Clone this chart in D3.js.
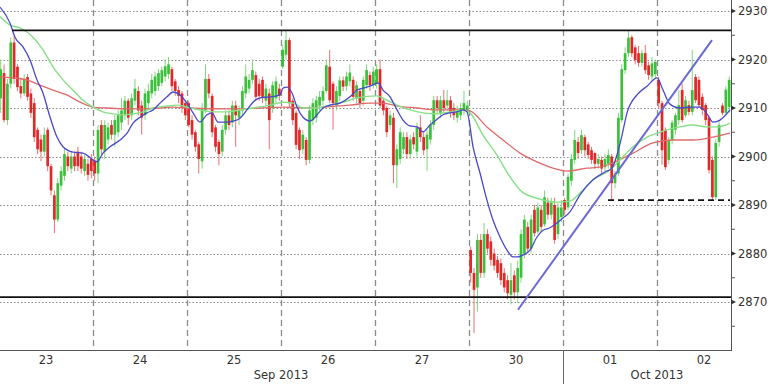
<!DOCTYPE html>
<html><head><meta charset="utf-8">
<script src="https://cdn.jsdelivr.net/npm/d3@7"></script>
<style>html,body{margin:0;padding:0;background:#fff;}svg{display:block;}</style>
</head><body><svg id="c" width="768" height="384"></svg>
<script>
// ---------- data ----------
const dayLabels = ["23","24","25","26","27","30","01","02"];
const monthLabels = ["Sep 2013","Oct 2013"];
const monthSpans = [[0,6],[6,8]];
const yTicks = [2870,2880,2890,2900,2910,2920,2930];
const yMinorTicks = [2865,2875,2885,2895,2905,2915,2925];
const barsPerDay = 28;

// candles per day: [open, high, low, close]
const day23 = [[2912,2920,2909,2918],[2917.2,2919,2907,2907.5],[2907.5,2916,2906.5,2915],[2915,2924.5,2914,2923.5],[2923.5,2924.8,2915,2916],[2918.5,2919,2913.5,2914.3],[2914.5,2916,2912,2913],[2913,2917,2912.5,2916],[2916.4,2917,2911.5,2912.3],[2913,2914,2908,2909],[2911,2912,2903,2904],[2905.5,2906,2900.5,2901.5],[2903.5,2904.5,2899,2901],[2901,2906,2900,2904.5],[2905.5,2906,2897,2898],[2898,2898.5,2892,2893],[2892,2893,2884.2,2887],[2887,2895.5,2886.5,2894.5],[2894,2898,2893,2897],[2896,2901.5,2895,2900.5],[2900,2901,2897,2898],[2897.5,2901,2896.5,2900],[2900,2901,2897,2898],[2901,2902,2897,2898],[2900,2901,2896.5,2897.5],[2897,2900.5,2896,2899.5],[2898.5,2899.5,2895,2896.2],[2899.5,2900.5,2895.5,2897]];
const day24 = [[2899,2900,2895,2896.5],[2896.5,2906.5,2894.5,2905.5],[2906.5,2907.5,2900.5,2901.5],[2901,2907.5,2899.5,2906.5],[2903.5,2907,2902.5,2906],[2906.5,2907.5,2903.5,2904.5],[2904.5,2908.5,2902,2907.5],[2905,2909.5,2904,2908.5],[2907,2912,2905.5,2909.5],[2908.5,2912.5,2907.5,2911.5],[2911.5,2912,2906.5,2908],[2908.5,2913,2907.5,2912],[2911.5,2916,2910.5,2914],[2913.5,2914.5,2908.5,2909.5],[2910.5,2911.5,2904.5,2908],[2908.5,2914,2907.5,2913],[2911,2915,2910,2913.5],[2913,2917,2912,2915.8],[2913.5,2917.5,2912.5,2916.5],[2914.5,2918,2913.5,2917.2],[2915.2,2918.5,2914.5,2917.8],[2916.5,2920,2915.5,2918.6],[2917,2920.5,2916,2919],[2918,2918.5,2913.5,2914.5],[2915.5,2916,2912.5,2913.5],[2913.7,2914.5,2911,2912.5],[2913,2913.5,2909,2910],[2911,2911.5,2907.5,2908.5]];
const day25 = [[2911,2911.5,2906,2906.5],[2907.5,2908.5,2903.5,2904.5],[2905,2905.5,2901,2902],[2902.5,2903,2896.5,2899.5],[2899,2911,2897.5,2910],[2909.5,2919,2909,2916],[2916,2917,2912,2913],[2912.5,2913,2904,2905],[2906,2906.5,2901,2902],[2903,2903.5,2898.2,2900.5],[2901,2906.5,2900,2905.5],[2905.5,2909.5,2904.5,2908.5],[2908.5,2909.5,2905.5,2906.5],[2907,2911.5,2906,2910.5],[2910.5,2911.5,2902,2908.5],[2908,2910.5,2906.5,2909.5],[2909.5,2914.5,2908.5,2913.5],[2913,2919,2912,2916.5],[2914,2917,2913,2915.8],[2915.8,2920,2915,2917.8],[2916.8,2917.5,2911.5,2912.3],[2915,2916,2911.5,2912.5],[2915.8,2916.5,2911,2912.3],[2911.5,2915,2910.5,2914],[2913,2914,2901.5,2907.5],[2910,2915.5,2909,2914.7],[2912,2916.5,2911,2915.5],[2914,2915,2911.5,2912.5]];
const day26 = [[2918.5,2923,2918,2922],[2921,2926,2920,2924],[2924,2924.5,2910,2911],[2911.5,2912,2906.5,2907.5],[2909,2909.5,2901.5,2902.4],[2905.5,2906,2899.5,2901.3],[2901.5,2905.5,2900.5,2904.5],[2903.4,2904,2898.2,2899.3],[2899.3,2910.5,2898.5,2909.5],[2907.5,2912,2906.5,2911],[2908,2912.5,2907,2911.6],[2910.5,2913.5,2909.5,2912.3],[2911.5,2914.5,2910.5,2913.5],[2913.5,2920,2913,2918.8],[2918.5,2922,2911,2911.6],[2915,2915.5,2905.5,2911],[2910.5,2914.5,2909.5,2913.5],[2912.5,2916.5,2911.5,2915.7],[2915.7,2916.5,2913.5,2914.4],[2914.5,2917.5,2913.5,2916.5],[2915.5,2919,2914.5,2917.3],[2915.8,2916.5,2911.5,2912.3],[2912,2915.5,2911,2914.7],[2913.5,2914,2910,2911],[2911.5,2916.5,2910.5,2915.8],[2914.7,2919,2914,2917.8],[2916.8,2917.5,2913.5,2914.7],[2914.7,2918.5,2914,2917.5]];
const day27 = [[2915,2919,2914,2918],[2918,2920,2910,2910.5],[2911.5,2912,2908.5,2909.5],[2910,2910.5,2904,2905],[2906.5,2909.5,2905.5,2908.5],[2908,2909,2894.5,2898.2],[2898.2,2902.5,2893.5,2901.5],[2899.5,2906,2898.5,2905],[2901.5,2905,2900.5,2904],[2904,2905,2899.5,2900.5],[2900.5,2904.5,2899.5,2903.5],[2904,2905,2901.5,2902.5],[2901,2907,2900,2906],[2906,2908.5,2903,2904],[2904,2905,2900.3,2901.3],[2901.5,2905.5,2897,2904.5],[2903.5,2907.5,2902.5,2906.5],[2906.5,2912.5,2905.5,2911.6],[2911.6,2912.5,2909,2910],[2909,2912.5,2908,2911.6],[2911.6,2913.7,2909,2910],[2910.5,2913.7,2909.5,2911.6],[2911.6,2912.5,2908,2909],[2910,2911,2907.5,2908.5],[2908,2910.5,2907,2909.6],[2908.5,2911,2907.5,2910],[2909.5,2913.5,2908.5,2911],[2909.5,2911.5,2908.5,2910.5]];
const day30 = [[2880.7,2881.5,2874,2876],[2876,2877,2863.6,2872.5],[2873,2884,2868,2882.8],[2882.8,2884,2875,2876],[2876,2886.3,2875,2884],[2884,2885,2880,2881],[2882.5,2883.5,2877.5,2878.7],[2880,2881,2876.5,2877.5],[2878.7,2879.5,2875,2876],[2878,2879,2873.5,2874.5],[2876,2877,2872,2873],[2874.5,2875.5,2870.5,2871.8],[2871.5,2878,2869.5,2874.5],[2875.5,2876.5,2870.5,2872],[2872,2878.5,2869.8,2877],[2875,2885,2874,2884],[2880,2888,2879,2887],[2885.5,2886.5,2880,2881],[2881,2888,2880,2887],[2889,2890,2883.5,2884.2],[2884.5,2890.5,2884,2889.5],[2889,2890,2884.5,2885.5],[2886,2893,2885.5,2891.6],[2890.5,2891.5,2887,2888],[2888,2891.5,2887,2890.5],[2890,2891.5,2882,2882.8],[2884,2890.5,2883,2889.5],[2887.5,2891,2886.5,2889.5]];
const day01 = [[2891,2891.5,2888,2889],[2889.5,2896.5,2889,2895.8],[2895,2900.5,2894,2899.5],[2899.3,2905.5,2898.5,2903.4],[2903,2904,2899.5,2900.7],[2901.3,2905.5,2900.5,2904.4],[2904,2904.5,2900,2901.3],[2902.5,2903,2899.5,2900.3],[2901.3,2902,2898.5,2899.3],[2900.7,2901,2897.5,2898.5],[2898.5,2900.5,2897.5,2899.5],[2899.3,2900,2896.5,2897.5],[2897.8,2900.5,2897,2899.5],[2898.5,2901.5,2897.5,2900.3],[2900,2900.5,2891,2894.5],[2894.5,2897,2893.5,2896.5],[2896.5,2909,2896,2908],[2907.5,2919,2907,2918],[2917.8,2922.5,2917,2921.3],[2921.3,2926,2920.5,2924.5],[2924.6,2925,2920.5,2921.3],[2922.5,2923,2919,2919.9],[2921.3,2922.8,2918.5,2919.3],[2919.3,2922,2918.5,2921.3],[2921.3,2923,2917,2917.8],[2918.8,2919.5,2915.8,2916.8],[2916.5,2920.5,2915.5,2919.2],[2917,2920,2916,2919.5]];
const day02 = [[2915.8,2916.5,2910,2911],[2911,2911.5,2898.3,2901.3],[2905.5,2906,2897.2,2897.8],[2899.3,2904,2898.5,2903.4],[2903.4,2907.5,2902.5,2907],[2905.5,2909,2904.5,2908.5],[2907.5,2913.7,2906.5,2910.6],[2913.7,2915,2907,2907.5],[2908.5,2912.5,2908,2911.6],[2910.6,2911.5,2908.5,2909.2],[2909.2,2922,2908.5,2913.7],[2916.4,2917,2911,2911.6],[2915.8,2916.5,2910,2910.6],[2912.3,2913,2908.5,2909.6],[2910.6,2911,2906.5,2907.5],[2908,2908.5,2896.5,2897.2],[2899.3,2900,2891,2891.6],[2891.6,2903.5,2891,2902.8],[2903,2907.5,2902,2906.5],[2910.5,2911,2908.5,2909],[2909,2914.5,2908.5,2913.8],[2910.2,2916.5,2909,2915.8]];
const days = [day23, day24, day25, day26, day27, day30, day01, day02];

// moving averages: [position in days, value]
const maFast = [[0.011,2930.8],[0.117,2927.5],[0.17,2924.6],[0.255,2922.6],[0.33,2919.9],[0.404,2915.8],[0.468,2913.1],[0.543,2908.1],[0.617,2904.0],[0.681,2902.0],[0.787,2900.9],[0.894,2900.7],[1.0,2899.3],[1.043,2898.9],[1.106,2900.7],[1.181,2902.0],[1.287,2903.4],[1.362,2904.8],[1.426,2906.9],[1.5,2908.1],[1.574,2909.0],[1.638,2909.6],[1.713,2911.0],[1.787,2912.3],[1.851,2913.3],[1.926,2912.7],[2.0,2911.0],[2.064,2909.0],[2.138,2907.1],[2.213,2908.6],[2.266,2909.0],[2.33,2907.1],[2.426,2907.1],[2.489,2907.3],[2.564,2907.9],[2.638,2909.6],[2.702,2911.2],[2.777,2912.1],[2.883,2912.3],[2.989,2912.7],[3.021,2914.1],[3.064,2914.3],[3.117,2913.1],[3.17,2910.2],[3.234,2908.1],[3.309,2907.3],[3.383,2908.6],[3.447,2910.0],[3.521,2910.6],[3.628,2911.0],[3.734,2912.3],[3.809,2913.7],[3.872,2914.1],[3.947,2914.5],[4.032,2915.2],[4.085,2913.7],[4.16,2912.3],[4.234,2909.6],[4.298,2907.5],[4.372,2906.3],[4.447,2906.1],[4.511,2905.1],[4.585,2906.5],[4.66,2907.7],[4.723,2908.6],[4.798,2909.0],[4.872,2909.2],[4.936,2909.6],[4.979,2909.2],[5.043,2902.0],[5.117,2896.6],[5.191,2891.0],[5.255,2886.9],[5.33,2883.4],[5.404,2880.7],[5.468,2879.3],[5.521,2879.3],[5.574,2879.7],[5.649,2880.7],[5.723,2883.4],[5.787,2884.8],[5.862,2885.3],[5.936,2886.3],[6.0,2887.3],[6.074,2888.6],[6.181,2892.1],[6.319,2895.2],[6.447,2896.8],[6.521,2897.6],[6.574,2900.3],[6.628,2904.4],[6.681,2909.0],[6.787,2912.7],[6.894,2914.5],[7.0,2916.2],[7.064,2913.7],[7.138,2910.8],[7.245,2910.0],[7.351,2910.2],[7.457,2910.2],[7.532,2908.8],[7.596,2907.1],[7.67,2907.5],[7.777,2909.6]];
const maMid = [[0.011,2928.8],[0.117,2927.1],[0.223,2926.5],[0.362,2924.6],[0.468,2922.0],[0.574,2918.5],[0.681,2915.8],[0.787,2913.7],[0.894,2911.6],[1.0,2910.2],[1.106,2909.2],[1.213,2908.8],[1.319,2908.6],[1.426,2908.8],[1.532,2909.2],[1.638,2910.0],[1.787,2910.4],[1.894,2910.6],[2.0,2910.2],[2.138,2909.6],[2.277,2909.2],[2.426,2909.2],[2.564,2909.6],[2.702,2910.0],[2.883,2910.6],[3.021,2911.2],[3.128,2911.0],[3.234,2910.0],[3.383,2910.0],[3.521,2910.6],[3.66,2911.2],[3.809,2912.1],[4.021,2912.5],[4.128,2911.6],[4.234,2910.6],[4.372,2909.6],[4.511,2909.0],[4.66,2908.8],[4.798,2909.2],[4.936,2909.6],[5.011,2909.0],[5.149,2904.4],[5.298,2900.3],[5.436,2895.8],[5.564,2892.7],[5.723,2891.4],[5.936,2890.6],[6.074,2890.8],[6.181,2892.5],[6.319,2895.2],[6.5,2897.2],[6.606,2899.3],[6.745,2902.0],[6.894,2904.0],[7.0,2904.8],[7.106,2905.5],[7.245,2906.1],[7.383,2906.5],[7.532,2906.1],[7.638,2906.1],[7.777,2906.9]];
const maSlow = [[0.011,2916.4],[0.149,2916.2],[0.298,2915.8],[0.436,2914.7],[0.574,2913.7],[0.723,2912.7],[0.862,2911.2],[1.0,2910.2],[1.149,2910.0],[1.426,2909.8],[1.713,2910.0],[1.851,2910.2],[2.0,2910.0],[2.489,2909.8],[2.777,2910.0],[3.021,2910.2],[3.234,2910.0],[3.447,2910.2],[3.734,2910.6],[3.947,2911.0],[4.085,2911.0],[4.234,2910.4],[4.447,2910.0],[4.66,2909.6],[4.936,2909.6],[5.011,2909.4],[5.191,2906.1],[5.362,2903.4],[5.543,2900.7],[5.723,2898.9],[5.894,2897.6],[6.043,2897.0],[6.255,2897.6],[6.394,2897.8],[6.532,2898.7],[6.745,2900.7],[6.957,2902.8],[7.17,2903.4],[7.383,2903.4],[7.596,2904.0],[7.777,2904.8]];

const resistance = {from: 0.138, value: 2926};
const support = {from: 0, value: 2871};
const dashedLevel = {from: 6.479, to: 7.777, value: 2891};
const trendLine = [[5.521,2868.4],[7.585,2924.0]];

// ---------- drawing ----------
const W = 768, H = 384, plotR = 731, plotB = 350;
const svg = d3.select("#c");
const x = d3.scaleLinear().domain([0, 8]).range([-1, 751]);
const y = d3.scaleLinear().domain([2860, 2930]).range([350.5, 11]);
const font = "'DejaVu Sans', sans-serif";

svg.append("defs").append("clipPath").attr("id","clip")
  .append("rect").attr("x",0).attr("y",0).attr("width",plotR).attr("height",plotB);

// horizontal dotted gridlines
svg.append("g").selectAll("line").data(yTicks).join("line")
  .attr("x1",0).attr("x2",plotR)
  .attr("y1",d=>Math.round(y(d))+0.5).attr("y2",d=>Math.round(y(d))+0.5)
  .attr("stroke","#8a8a8a").attr("stroke-width",1).attr("stroke-dasharray","1.5,2");

// vertical dashed day separators
svg.append("g").selectAll("line").data(d3.range(1,8)).join("line")
  .attr("x1",d=>Math.round(x(d))+0.5).attr("x2",d=>Math.round(x(d))+0.5)
  .attr("y1",0).attr("y2",plotB)
  .attr("stroke","#8a8a8a").attr("stroke-width",1.3).attr("stroke-dasharray","6,4");

const plot = svg.append("g").attr("clip-path","url(#clip)");

// candles
const candles = [];
days.forEach((arr, d) => arr.forEach((c, i) => candles.push({t: d + (i + 0.5) / barsPerDay, o: c[0], h: c[1], l: c[2], c: c[3]})));
const up = "#3cc03c", dn = "#e02828";
plot.append("g").selectAll("line").data(candles).join("line")
  .attr("x1",d=>x(d.t)).attr("x2",d=>x(d.t))
  .attr("y1",d=>y(d.h)).attr("y2",d=>y(d.l))
  .attr("stroke",d=>d.c>=d.o?"#7ed67e":"#ec7070").attr("stroke-width",1);
plot.append("g").selectAll("rect").data(candles).join("rect")
  .attr("x",d=>x(d.t)-1.35).attr("width",2.7)
  .attr("y",d=>y(Math.max(d.o,d.c)))
  .attr("height",d=>Math.max(1, Math.abs(y(d.o)-y(d.c))))
  .attr("fill",d=>d.c>=d.o?up:dn);

// moving averages
const line = d3.line().x(d=>x(d[0])).y(d=>y(d[1])).curve(d3.curveMonotoneX);
plot.append("path").datum(maSlow).attr("d",line).attr("fill","none").attr("stroke","#e06a6a").attr("stroke-width",1.3);
plot.append("path").datum(maMid).attr("d",line).attr("fill","none").attr("stroke","#86e086").attr("stroke-width",1.4);
plot.append("path").datum(maFast).attr("d",line).attr("fill","none").attr("stroke","#4848cc").attr("stroke-width",1.3);

// support / resistance
plot.append("line").attr("x1",x(resistance.from)).attr("x2",plotR)
  .attr("y1",y(resistance.value)).attr("y2",y(resistance.value))
  .attr("stroke","#111").attr("stroke-width",1.8);
plot.append("line").attr("x1",x(support.from)).attr("x2",plotR)
  .attr("y1",y(support.value)).attr("y2",y(support.value))
  .attr("stroke","#111").attr("stroke-width",1.8);
plot.append("line").attr("x1",x(dashedLevel.from)).attr("x2",x(dashedLevel.to))
  .attr("y1",y(dashedLevel.value)).attr("y2",y(dashedLevel.value))
  .attr("stroke","#111").attr("stroke-width",1.6).attr("stroke-dasharray","6,4");
plot.append("line")
  .attr("x1",x(trendLine[0][0])).attr("y1",y(trendLine[0][1]))
  .attr("x2",x(trendLine[1][0])).attr("y2",y(trendLine[1][1]))
  .attr("stroke","#6a6ad6").attr("stroke-width",2);

// right axis
const ax = svg.append("g");
ax.append("line").attr("x1",plotR+0.5).attr("x2",plotR+0.5).attr("y1",0).attr("y2",plotB+0.5)
  .attr("stroke","#555").attr("stroke-width",1);
ax.selectAll("path.tk").data(yTicks).join("path").attr("class","tk")
  .attr("d",d=>{const yy=y(d);return `M${plotR},${yy-2.5}L${plotR+5},${yy}L${plotR},${yy+2.5}Z`;})
  .attr("fill","#333");
ax.selectAll("line.mt").data(yMinorTicks).join("line").attr("class","mt")
  .attr("x1",plotR).attr("x2",plotR+4).attr("y1",d=>y(d)).attr("y2",d=>y(d))
  .attr("stroke","#555");
ax.selectAll("text").data(yTicks).join("text")
  .attr("x",plotR+7).attr("y",d=>y(d)).attr("dy","0.36em")
  .attr("font-family",font).attr("font-size",11.5).attr("fill","#333")
  .text(d=>d);

// bottom axis
const bx = svg.append("g");
bx.append("line").attr("x1",0).attr("x2",plotR+1).attr("y1",plotB+0.5).attr("y2",plotB+0.5)
  .attr("stroke","#555").attr("stroke-width",1);
bx.selectAll("text.day").data(dayLabels).join("text").attr("class","day")
  .attr("x",(d,i)=>x(i+0.5)).attr("y",360).attr("dy","0.36em").attr("text-anchor","middle")
  .attr("font-family",font).attr("font-size",11.5).attr("fill","#333").text(d=>d);
bx.selectAll("text.mon").data(monthLabels).join("text").attr("class","mon")
  .attr("x",(d,i)=>x((monthSpans[i][0]+monthSpans[i][1])/2)).attr("y",375).attr("dy","0.36em")
  .attr("text-anchor","middle")
  .attr("font-family",font).attr("font-size",11.5).attr("fill","#333").text(d=>d);
bx.selectAll("line.ms").data(monthSpans.slice(1)).join("line").attr("class","ms")
  .attr("x1",d=>Math.round(x(d[0]))+0.5).attr("x2",d=>Math.round(x(d[0]))+0.5)
  .attr("y1",plotB).attr("y2",H).attr("stroke","#666").attr("stroke-width",1);
</script></body></html>
